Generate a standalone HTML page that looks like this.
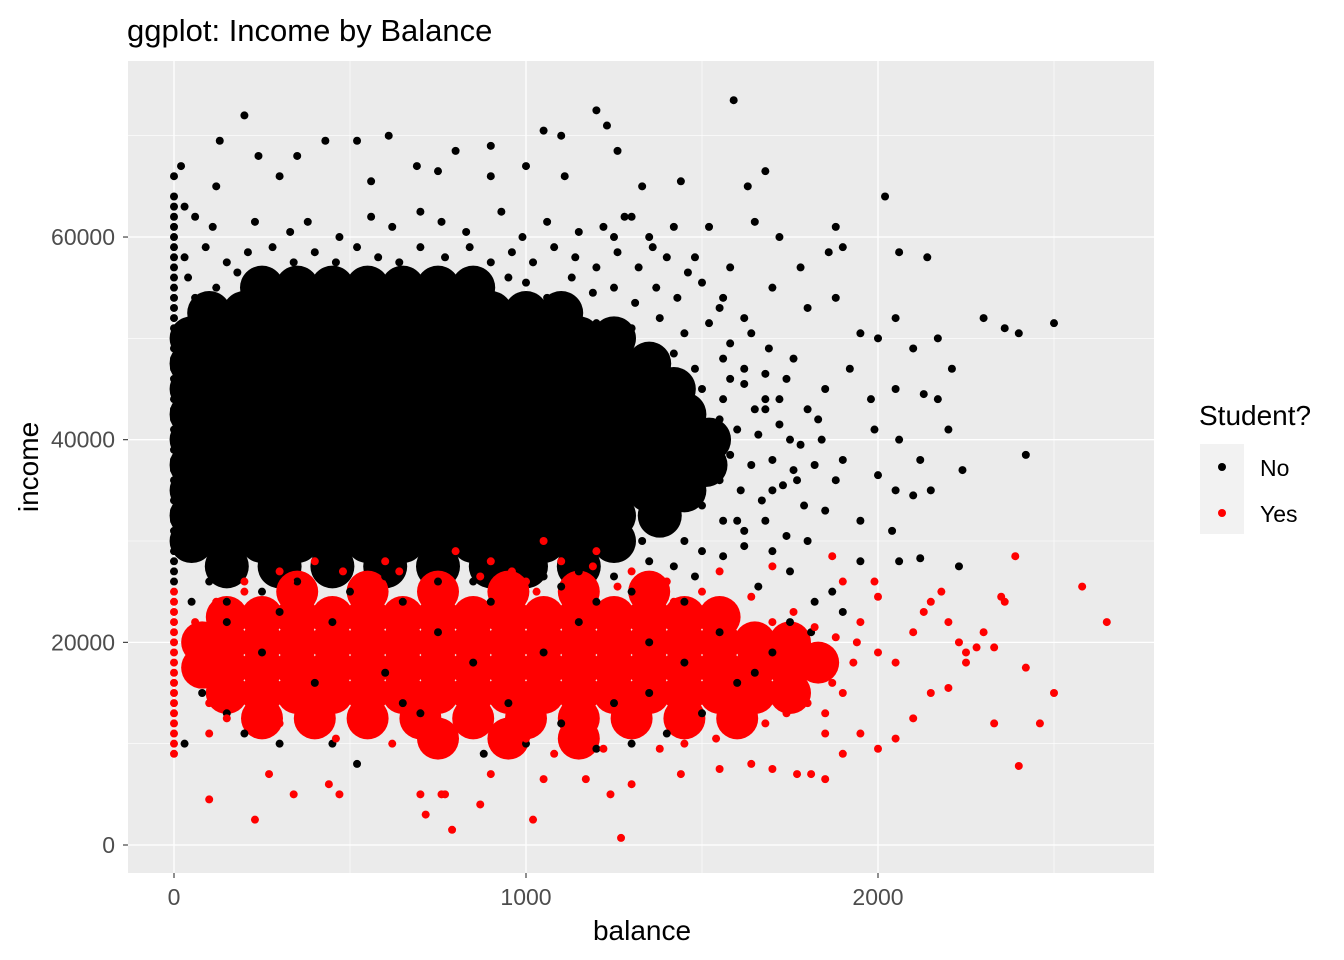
<!DOCTYPE html>
<html><head><meta charset="utf-8"><style>
html,body{margin:0;padding:0;background:#fff;}
svg{display:block;font-family:"Liberation Sans",sans-serif;}
</style></head><body>
<svg id="chart" width="1344" height="960" viewBox="0 0 1344 960">
<text x="127" y="41" font-size="31" fill="#000">ggplot: Income by Balance</text>
<rect x="128" y="61" width="1026" height="812" fill="#EBEBEB"/>
<g id="grid"></g>
<g id="clusters"></g>
<g id="points"></g>
<g id="axes"></g>
<text x="642" y="940" font-size="28" text-anchor="middle" fill="#000">balance</text>
<text x="38" y="467" font-size="28" text-anchor="middle" fill="#000" transform="rotate(-90 38 467)">income</text>
<g>
<text x="1199" y="425" font-size="28" fill="#000">Student?</text>
<rect x="1200" y="444" width="44" height="90" fill="#F2F2F2"/>
<circle cx="1222" cy="467" r="4" fill="#000"/>
<circle cx="1222" cy="513" r="4" fill="#FF0000"/>
<text x="1260" y="476" font-size="23" fill="#000">No</text>
<text x="1260" y="522" font-size="23" fill="#000">Yes</text>
</g>
</svg>
<script>
const xTicks=[0,1000,2000];
const xMinor=[500,1500,2500];
const yTicks=[0,20000,40000,60000];
const yMinor=[10000,30000,50000,70000];
// dense clusters (balance, income in thousands)
const blackClusters=
"250,55;350,55;450,55;550,55;650,55;750,55;850,55;"+
"100,52.5;200,52.5;300,52.5;400,52.5;500,52.5;600,52.5;700,52.5;800,52.5;900,52.5;1000,52.5;1100,52.5;"+
"50,50;150,50;250,50;350,50;450,50;550,50;650,50;750,50;850,50;950,50;1050,50;1150,50;1250,50;"+
"50,47.5;150,47.5;250,47.5;350,47.5;450,47.5;550,47.5;650,47.5;750,47.5;850,47.5;950,47.5;1050,47.5;1150,47.5;1250,47.5;1350,47.5;"+
"50,45;150,45;250,45;350,45;450,45;550,45;650,45;750,45;850,45;950,45;1050,45;1150,45;1250,45;1350,45;1420,45;"+
"50,42.5;150,42.5;250,42.5;350,42.5;450,42.5;550,42.5;650,42.5;750,42.5;850,42.5;950,42.5;1050,42.5;1150,42.5;1250,42.5;1350,42.5;1450,42.5;"+
"50,40;150,40;250,40;350,40;450,40;550,40;650,40;750,40;850,40;950,40;1050,40;1150,40;1250,40;1350,40;1450,40;1520,40;"+
"50,37.5;150,37.5;250,37.5;350,37.5;450,37.5;550,37.5;650,37.5;750,37.5;850,37.5;950,37.5;1050,37.5;1150,37.5;1250,37.5;1350,37.5;1450,37.5;1510,37.5;"+
"50,35;150,35;250,35;350,35;450,35;550,35;650,35;750,35;850,35;950,35;1050,35;1150,35;1250,35;1350,35;1450,35;"+
"50,32.5;150,32.5;250,32.5;350,32.5;450,32.5;550,32.5;650,32.5;750,32.5;850,32.5;950,32.5;1050,32.5;1150,32.5;1250,32.5;1380,32.5;"+
"50,30;150,30;250,30;350,30;450,30;550,30;650,30;750,30;850,30;950,30;1050,30;1150,30;1250,30;"+
"150,27.5;300,27.5;450,27.5;600,27.5;750,27.5;900,27.5;1000,27.5;1150,27.5";
const redClusters=
"350,25;550,25;750,25;950,25;1150,25;1350,25;"+
"150,22.5;250,22.5;350,22.5;450,22.5;550,22.5;650,22.5;750,22.5;850,22.5;950,22.5;1050,22.5;1150,22.5;1250,22.5;1350,22.5;1450,22.5;1550,22.5;"+
"80,20;150,20;250,20;350,20;450,20;550,20;650,20;750,20;850,20;950,20;1050,20;1150,20;1250,20;1350,20;1450,20;1550,20;1650,20;1750,20;"+
"80,17.5;150,17.5;250,17.5;350,17.5;450,17.5;550,17.5;650,17.5;750,17.5;850,17.5;950,17.5;1050,17.5;1150,17.5;1250,17.5;1350,17.5;1450,17.5;1550,17.5;1650,17.5;1750,17.5;1830,18;"+
"150,15;250,15;350,15;450,15;550,15;650,15;750,15;850,15;950,15;1050,15;1150,15;1250,15;1350,15;1450,15;1550,15;1650,15;1750,15;"+
"250,12.5;400,12.5;550,12.5;700,12.5;850,12.5;1000,12.5;1150,12.5;1300,12.5;1450,12.5;1600,12.5;"+
"750,10.5;950,10.5;1150,10.5";
const blackPoints="200,72;610,70;1200,72.5;1590,73.5;1050,70.5;130,69.5;430,69.5;800,68.5;900,69;1260,68.5;1230,71;1100,70;520,69.5;20,67;350,68;240,68;690,67;1000,67;1110,66;1440,65.5;1630,65;1680,66.5;560,65.5;120,65;900,66;1330,65;2020,64;300,66;750,66.5;30,63;1300,62;1420,61;1520,61;1650,61.5;1720,60;1880,61;1900,59;2060,58.5;2140,58;1480,58;1580,57;1780,57;1860,58.5;1360,59;1250,60;1700,55;1800,53;1880,54;1950,50.5;2000,50;2050,52;2100,49;2170,50;2300,52;2400,50.5;2500,51.5;2360,51;2210,47;1920,47;1980,44;2050,45;2130,44.5;2170,44;1850,45;1760,48;1690,49;1620,52;1560,54;1990,41;2060,40;2120,38;2200,41;2240,37;2420,38.5;1900,38;2000,36.5;2050,35;2100,34.5;2150,35;1850,33;1950,32;2040,31;1800,30;1700,29;1750,27;1950,28;2060,28;2120,28.3;2230,27.5;1660,25.5;1600,32;1700,35;1750,40;1650,43;1580,46;1680,44;1770,36;1880,36;1830,42;1870,25;1820,24;1900,23;1810,21;1700,19;1600,16;1500,13;1400,11;1300,10;1200,9.5;880,9;520,8;450,10;300,10;150,13;80,15;30,10;200,11;1000,10;1100,12;1250,14;1350,15;950,14;700,13;600,17;400,16;250,19;150,22;450,22;750,21;1050,19;1150,22;1350,20;1450,18;1550,21;900,24;500,25;1650,17;1750,22;1450,24;300,23;650,14;850,18;"+
"60,62;110,61;230,61.5;330,60.5;380,61.5;470,60;560,62;620,61;700,62.5;760,61.5;830,60.5;930,62.5;990,60;1060,61.5;1150,60.5;1220,61;1280,62;1350,60;"+
"30,58;90,59;150,57.5;210,58.5;280,59;340,57.5;400,58.5;460,57.5;520,59;580,58;640,57.5;700,59;770,58;840,59;900,57.5;960,58.5;1020,57.5;1080,59;1140,58;1200,57;1260,58.5;1320,57;1400,58;1460,56.5;"+
"1000,55.5;1060,54;1130,56;1190,54.5;1250,55;1310,53.5;1370,55;1430,54;1500,55.5;1550,53;40,56;120,55;180,56.5;950,56;60,54;"+
"1200,51.5;1300,51;1380,52;1450,50.5;1520,51.5;1580,49.5;1640,50.5;1420,48.5;1480,47;1560,48;1620,47;1680,46.5;1740,46;1500,45;1560,44;1620,45.5;1680,43;1720,44;1800,43;1550,42;1600,41;1660,40.5;1720,41.5;1780,39.5;1840,40;1580,38.5;1640,37.5;1700,38;1760,37;1820,37.5;1550,36;1610,35;1670,34;1730,35.5;1790,33.5;1500,33.5;1560,32;1620,31;1680,32;1740,30.5;1450,30;1500,29;1560,28.5;1620,29.5;1350,28;1420,27.5;1480,26.5;1150,27;1250,26.5;1330,30;1400,31.5;"+
"100,26;250,25;350,26;600,26.5;750,26;1100,25.5;1200,24;50,24;150,24;450,26;850,26;1050,26.5;1300,25;650,24;"+
"0,26;0,28;0,30;0,32;0,34;0,36;0,38;0,40;0,42;0,44;0,46;0,48;0,50;0,52;0,54;0,56;0,58;0,60;0,62;0,64;0,66;0,27;0,29;0,31;0,33;0,35;0,37;0,39;0,41;0,43;0,45;0,47;0,49;0,51;0,53;0,55;0,57;0,59;0,61;0,63";
const redPoints="100,4.5;230,2.5;270,7;340,5;440,6;470,5;700,5;715,3;770,5;790,1.5;760,5;1020,2.5;870,4;900,7;1050,6.5;1170,6.5;1240,5;1270,0.7;1300,6;1440,7;1550,7.5;1640,8;1700,7.5;1770,7;1810,7;1850,6.5;1900,9;1850,11;1950,11;2000,9.5;2050,10.5;2100,12.5;2150,15;2200,15.5;2250,18;2330,12;2460,12;2400,7.8;2500,15;2420,17.5;2580,25.5;2650,22;2390,28.5;2360,24;2300,21;2250,19;2200,22;2150,24;2100,21;2050,18;2000,19;1950,22;1900,26;1870,28.5;1990,26;2000,24.5;1940,20;1900,15;1850,13;2330,19.5;2280,19.5;2350,24.5;2180,25;2130,23;2230,20;800,29;1050,30;1100,28;1300,27;1550,27;1700,27.5;600,28;400,28;300,27;200,26;1400,26;1200,29;900,28;1000,26;"+
"120,24;200,25;330,26;480,27;560,25.5;640,27;720,26;790,24.5;870,26.5;960,27;1030,25;1120,26;1190,27.5;1260,25.5;1340,26;1420,24;1500,25;1570,23.5;1640,24.5;1700,22;1760,23;1820,21.5;1880,20.5;1930,18;1870,16;1800,14;1740,13;1680,12;1600,11;1540,10.5;1450,10;1380,9.5;1300,11;1220,9.5;1150,10.5;1080,9;1000,10.5;930,9.5;860,11;780,10;700,11;620,10;540,11;460,10.5;380,11.5;300,12;220,13;150,12.5;100,14;60,16;60,19;60,22;100,11;1750,19.5;1800,18;1700,15;"+
"0,9;0,11;0,13;0,15;0,17;0,19;0,21;0,23;0,25;0,10;0,12;0,14;0,16;0,18;0,20;0,22;0,24";

const NS="http://www.w3.org/2000/svg";
const X=v=>174+v*0.352;
const Y=v=>845-v*0.010133;
function parse(s){return s.split(";").filter(t=>t).map(t=>t.split(",").map(Number));}
function mk(tag,attrs,parent){const e=document.createElementNS(NS,tag);for(const k in attrs)e.setAttribute(k,attrs[k]);parent.appendChild(e);return e;}
const grid=document.getElementById("grid"),axes=document.getElementById("axes");
xMinor.forEach(v=>{const l=mk("line",{x1:X(v),x2:X(v),y1:61,y2:873,stroke:"#fff","stroke-width":0.6},grid);

});
yMinor.forEach(v=>{const l=mk("line",{x1:128,x2:1154,y1:Y(v),y2:Y(v),stroke:"#fff","stroke-width":0.6},grid);

});
xTicks.forEach(v=>{const l=mk("line",{x1:X(v),x2:X(v),y1:61,y2:873,stroke:"#fff","stroke-width":1.3},grid);


const t=mk("line",{x1:X(v),x2:X(v),y1:873,y2:878,stroke:"#333","stroke-width":1.1},axes);


const tx=mk("text",{x:X(v),y:905,"font-size":23,fill:"#4D4D4D","text-anchor":"middle"},axes);tx.textContent=v;

});
yTicks.forEach(v=>{const l=mk("line",{x1:128,x2:1154,y1:Y(v),y2:Y(v),stroke:"#fff","stroke-width":1.3},grid);


const t=mk("line",{x1:123,x2:128,y1:Y(v),y2:Y(v),stroke:"#333","stroke-width":1.1},axes);


const tx=mk("text",{x:115,y:Y(v)+8,"font-size":23,fill:"#4D4D4D","text-anchor":"end"},axes);tx.textContent=v;

});
const cl=document.getElementById("clusters"),pts=document.getElementById("points");
parse(blackClusters).forEach(([b,i])=>{const c=mk("circle",{cx:X(b),cy:Y(i*1000),r:22,fill:"#000"},cl);

});
parse(redClusters).forEach(([b,i])=>{const c=mk("circle",{cx:X(b),cy:Y(i*1000),r:21,fill:"#FF0000"},cl);

});
parse(blackPoints).forEach(([b,i])=>{const c=mk("circle",{cx:X(b),cy:Y(i*1000),r:4,fill:"#000"},pts);

});
parse(redPoints).forEach(([b,i])=>{const c=mk("circle",{cx:X(b),cy:Y(i*1000),r:4,fill:"#FF0000"},pts);

});
</script>
</body></html>
